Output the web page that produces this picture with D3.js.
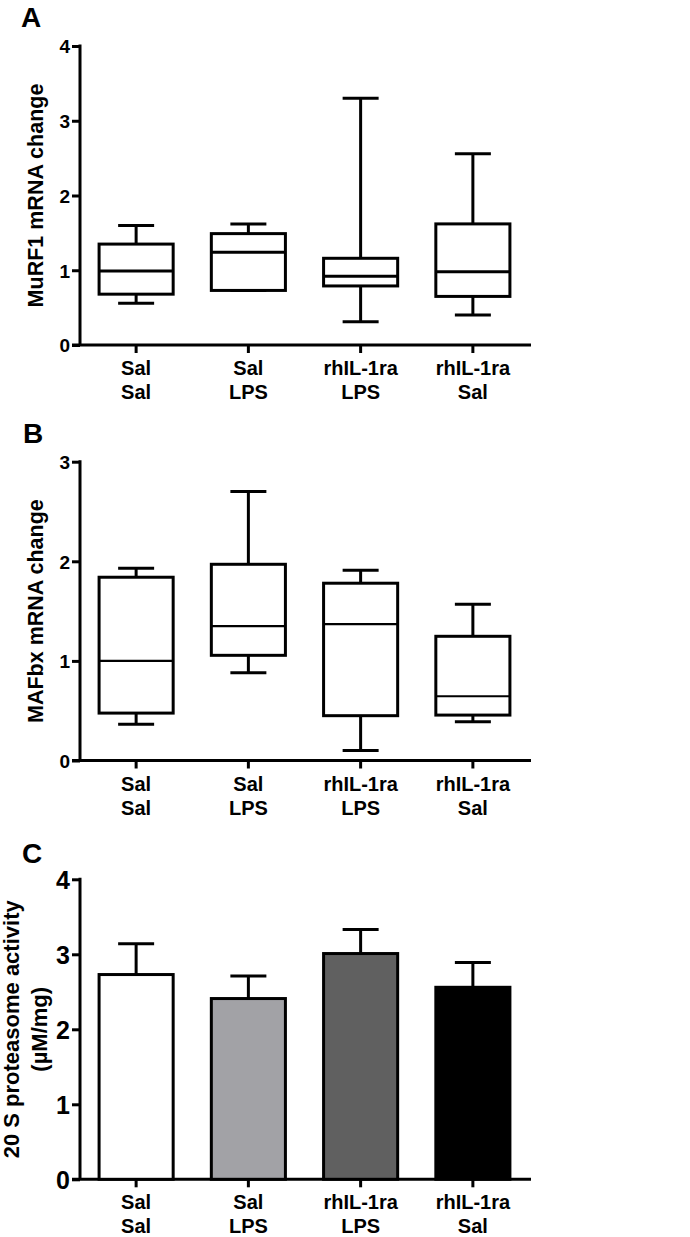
<!DOCTYPE html>
<html>
<head>
<meta charset="utf-8">
<script src="https://cdn.jsdelivr.net/npm/d3@7"></script>
<style>
  html, body { margin: 0; padding: 0; background: #fff; }
  svg { display: block; }
  text { font-family: "Liberation Sans", Arial, sans-serif; font-weight: bold; fill: #000; }
</style>
</head>
<body>
<div id="chart"></div>
<script>
// ---- data ----
const catTop = ["Sal", "Sal", "rhIL-1ra", "rhIL-1ra"];
const catBottom = ["Sal", "LPS", "LPS", "Sal"];

// Panel A: MuRF1 mRNA change (box plots)
const murfMin = [0.56, 0.73, 0.31, 0.40];
const murfQ1 = [0.68, 0.73, 0.79, 0.65];
const murfMed = [0.99, 1.24, 0.92, 0.98];
const murfQ3 = [1.35, 1.49, 1.16, 1.62];
const murfMax = [1.60, 1.62, 3.30, 2.56];

// Panel B: MAFbx mRNA change (box plots)
const mafMin = [0.365, 0.88, 0.10, 0.39];
const mafQ1 = [0.476, 1.056, 0.45, 0.456];
const mafMed = [1.00, 1.35, 1.37, 0.645];
const mafQ3 = [1.84, 1.97, 1.78, 1.247];
const mafMax = [1.93, 2.70, 1.91, 1.57];

// Panel C: 20 S proteasome activity (mean + SEM)
const protMean = [2.73, 2.41, 3.01, 2.56];
const protErr = [0.41, 0.30, 0.32, 0.33];
const barColors = ["#ffffff", "#a2a2a6", "#606060", "#000000"];

const ticksA = [0, 1, 2, 3, 4];
const ticksB = [0, 1, 2, 3];
const ticksC = [0, 1, 2, 3, 4];

// ---- drawing ----
const W = 690, H = 1237;
const svg = d3.select("#chart").append("svg").attr("width", W).attr("height", H);

const x = d3.scaleBand().domain(d3.range(4)).range([80, 529]).paddingInner(0.34).paddingOuter(0.17);
const capW = 36;

function panel(opts) {
  const g = svg.append("g");
  const y = d3.scaleLinear().domain(opts.domain).range([opts.y0, opts.y1]);

  // panel letter
  g.append("text").attr("x", opts.letterX).attr("y", opts.letterY)
    .attr("font-size", 28).text(opts.letter);

  // y axis
  const ya = g.append("g").attr("transform", "translate(80,0)")
    .call(d3.axisLeft(y).tickValues(opts.ticks).tickSize(8).tickSizeOuter(0).tickPadding(2).tickFormat(d3.format("d")));
  ya.select(".domain").remove();
  ya.selectAll(".tick line").attr("stroke", "#000").attr("stroke-width", 3);
  ya.selectAll(".tick text").attr("font-size", opts.tickFont).attr("font-family", null).attr("dy", "0.36em");
  g.append("line").attr("x1", 80).attr("x2", 80).attr("y1", y(opts.domain[1]) - 1.5).attr("y2", y(0))
    .attr("stroke", "#000").attr("stroke-width", 3);

  // x axis
  const xa = g.append("g").attr("transform", `translate(0,${y(0)})`)
    .call(d3.axisBottom(x).tickSize(8).tickSizeOuter(0).tickFormat(""));
  xa.select(".domain").remove();
  xa.selectAll(".tick line").attr("stroke", "#000").attr("stroke-width", 3);
  xa.selectAll(".tick").each(function (d) {
    const t = d3.select(this).append("text").attr("text-anchor", "middle").attr("font-size", 20);
    t.append("tspan").attr("x", 0).attr("y", 30).text(catTop[d]);
    t.append("tspan").attr("x", 0).attr("y", 54).text(catBottom[d]);
  });
  g.append("line").attr("x1", 72).attr("x2", 531).attr("y1", y(0)).attr("y2", y(0))
    .attr("stroke", "#000").attr("stroke-width", 3);

  // y title
  const tt = g.append("text").attr("text-anchor", "middle").attr("font-size", opts.titleFont)
    .attr("transform", `translate(${opts.titleX},${(y(opts.domain[0]) + y(opts.domain[1])) / 2}) rotate(-90)`);
  opts.title.forEach((line, i) => {
    tt.append("tspan").attr("x", 0).attr("y", i * opts.titleGap).text(line);
  });

  opts.draw(g, y);
}

function boxes(mn, q1, md, q3, mx, medW) {
  return function (g, y) {
    const idx = d3.range(4);
    const cx = i => x(i) + x.bandwidth() / 2;
    const bg = g.append("g").attr("stroke", "#000").attr("fill", "none");
    idx.forEach(i => {
      bg.append("line").attr("x1", cx(i)).attr("x2", cx(i)).attr("y1", y(q3[i])).attr("y2", y(mx[i])).attr("stroke-width", 3);
      bg.append("line").attr("x1", cx(i)).attr("x2", cx(i)).attr("y1", y(q1[i])).attr("y2", y(mn[i])).attr("stroke-width", 3);
      bg.append("line").attr("x1", cx(i) - capW / 2).attr("x2", cx(i) + capW / 2).attr("y1", y(mx[i])).attr("y2", y(mx[i])).attr("stroke-width", 3);
      bg.append("line").attr("x1", cx(i) - capW / 2).attr("x2", cx(i) + capW / 2).attr("y1", y(mn[i])).attr("y2", y(mn[i])).attr("stroke-width", 3);
    });
    bg.selectAll("rect").data(idx).join("rect")
      .attr("x", i => x(i)).attr("width", x.bandwidth())
      .attr("y", i => y(q3[i])).attr("height", i => y(q1[i]) - y(q3[i]))
      .attr("fill", "#fff").attr("stroke-width", 3);
    bg.selectAll("line.med").data(idx).join("line").attr("class", "med")
      .attr("x1", i => x(i)).attr("x2", i => x(i) + x.bandwidth())
      .attr("y1", i => y(md[i])).attr("y2", i => y(md[i])).attr("stroke-width", medW);
  };
}

panel({
  letter: "A", letterX: 21, letterY: 27,
  domain: [0, 4], y0: 345, y1: 46, ticks: ticksA, tickFont: 19,
  title: ["MuRF1 mRNA change"], titleX: 43, titleGap: 0, titleFont: 21.5,
  draw: boxes(murfMin, murfQ1, murfMed, murfQ3, murfMax, 3)
});

panel({
  letter: "B", letterX: 23, letterY: 443,
  domain: [0, 3], y0: 760.5, y1: 461.7, ticks: ticksB, tickFont: 19,
  title: ["MAFbx mRNA change"], titleX: 43, titleGap: 0, titleFont: 21.5,
  draw: boxes(mafMin, mafQ1, mafMed, mafQ3, mafMax, 2.2)
});

panel({
  letter: "C", letterX: 22, letterY: 863,
  domain: [0, 4], y0: 1179.3, y1: 879.3, ticks: ticksC, tickFont: 25,
  title: ["20 S proteasome activity", "(\u00b5M/mg)"], titleX: 19, titleGap: 28, titleFont: 22,
  draw: function (g, y) {
    const idx = d3.range(4);
    const cx = i => x(i) + x.bandwidth() / 2;
    const eg = g.append("g").attr("stroke", "#000").attr("stroke-width", 3);
    idx.forEach(i => {
      eg.append("line").attr("x1", cx(i)).attr("x2", cx(i)).attr("y1", y(protMean[i])).attr("y2", y(protMean[i] + protErr[i]));
      eg.append("line").attr("x1", cx(i) - capW / 2).attr("x2", cx(i) + capW / 2)
        .attr("y1", y(protMean[i] + protErr[i])).attr("y2", y(protMean[i] + protErr[i]));
    });
    g.append("g").selectAll("rect").data(idx).join("rect")
      .attr("x", i => x(i)).attr("width", x.bandwidth())
      .attr("y", i => y(protMean[i])).attr("height", i => y(0) - y(protMean[i]))
      .attr("fill", i => barColors[i]).attr("stroke", "#000").attr("stroke-width", 3);
  }
});
</script>
</body>
</html>
